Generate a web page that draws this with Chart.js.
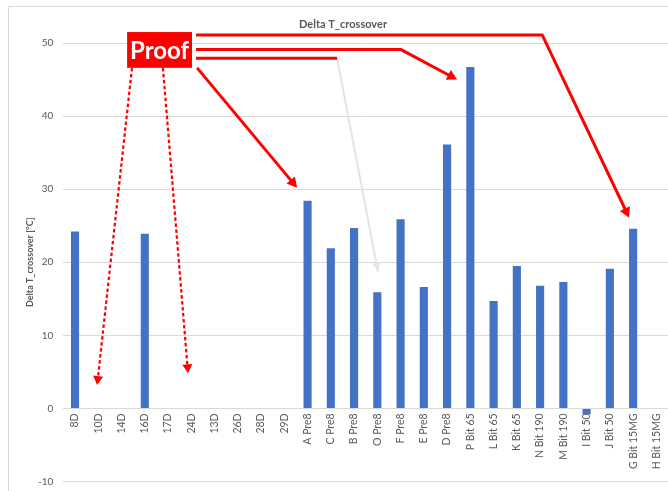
<!DOCTYPE html>
<html>
<head>
<meta charset="utf-8">
<script src="https://cdn.jsdelivr.net/npm/chart.js@4/dist/chart.umd.min.js"></script>
<style>
  html, body { margin: 0; padding: 0; background: #ffffff; }
  canvas { display: block; }
</style>
</head>
<body>
<canvas id="c" width="668" height="491"></canvas>
<script>
// ---- data ----
const categories = ['8D','10D','14D','16D','17D','24D','13D','26D','28D','29D',
  'A Pre8','C Pre8','B Pre8','O Pre8','F Pre8','E Pre8','D Pre8',
  'P Bit 65','L Bit 65','K Bit 65','N Bit 190','M Bit 190','I Bit 50','J Bit 50',
  'G Bit 15MG','H Bit 15MG'];
const deltaT = [24.2, null, null, 23.9, null, null, null, null, null, null,
  28.4, 21.9, 24.7, 15.9, 25.9, 16.6, 36.1,
  46.7, 14.7, 19.5, 16.8, 17.3, -0.8, 19.1,
  24.6, null];
const yTicks = [-10, 0, 10, 20, 30, 40, 50];
const chartTitle = 'Delta T_crossover';
const yTitle = 'Delta T_crossover [°C]';
const stampText = 'Proof';

// annotation geometry in data space: [category index, value]
const stampBox = [[2.24, 51.5], [5.03, 46.6]];
const solidArrows = [
  [[5.2, 51.1], [20.09, 51.1], [23.83, 26.1]],
  [[5.2, 49.1], [14.02, 49.1], [16.43, 45.0]],
  [[5.25, 46.6], [9.55, 30.2]]
];
const plainLine = [[5.2, 47.9], [11.27, 47.9]];
const grayArrow = [[11.27, 47.9], [13.03, 18.7]];
const dashedArrows = [
  [[2.45, 46.6], [0.95, 3.2]],
  [[3.78, 46.6], [4.86, 4.8]]
];

const FONT = 'Lato, "Open Sans", "DejaVu Sans", sans-serif';
const TXT = '#595959';

function arrowHead(ctx, x0, y0, x1, y1, len, half, color) {
  const a = Math.atan2(y1 - y0, x1 - x0);
  ctx.save();
  ctx.setLineDash([]);
  ctx.fillStyle = color;
  ctx.beginPath();
  ctx.moveTo(x1, y1);
  ctx.lineTo(x1 - len * Math.cos(a) + half * Math.sin(a), y1 - len * Math.sin(a) - half * Math.cos(a));
  ctx.lineTo(x1 - len * Math.cos(a) - half * Math.sin(a), y1 - len * Math.sin(a) + half * Math.cos(a));
  ctx.closePath();
  ctx.fill();
  ctx.restore();
}

const decor = {
  id: 'decor',
  beforeDraw(chart) {
    const ctx = chart.ctx;
    ctx.save();
    ctx.strokeStyle = '#d9d9d9';
    ctx.lineWidth = 1;
    ctx.beginPath();
    ctx.moveTo(8.5, 491);
    ctx.lineTo(8.5, 6.5);
    ctx.lineTo(668, 6.5);
    ctx.stroke();
    ctx.fillStyle = TXT;
    ctx.font = 'bold 11px ' + FONT;
    ctx.textAlign = 'center';
    ctx.textBaseline = 'middle';
    ctx.fillText(chartTitle, 343, 24);
    ctx.restore();
  },
  afterDraw(chart) {
    const ctx = chart.ctx;
    const xs = chart.scales.x, ys = chart.scales.y;
    const P = (p) => [xs.getPixelForValue(p[0]), ys.getPixelForValue(p[1])];
    ctx.save();
    ctx.lineJoin = 'miter';
    ctx.lineCap = 'butt';

    // gray arrow
    {
      const pts = grayArrow.map(P);
      ctx.strokeStyle = '#e4e4e4';
      ctx.lineWidth = 2;
      ctx.beginPath();
      ctx.moveTo(pts[0][0], pts[0][1]);
      ctx.lineTo(pts[1][0], pts[1][1]);
      ctx.stroke();
      arrowHead(ctx, pts[0][0], pts[0][1], pts[1][0], pts[1][1], 9, 4, '#e4e4e4');
    }

    // solid red lines
    ctx.strokeStyle = '#ff0000';
    ctx.lineWidth = 3;
    solidArrows.forEach(arr => {
      const n = arr.length;
      const pts = arr.map(P);
      const a = Math.atan2(pts[n-1][1] - pts[n-2][1], pts[n-1][0] - pts[n-2][0]);
      ctx.beginPath();
      ctx.moveTo(pts[0][0], pts[0][1]);
      for (let i = 1; i < n - 1; i++) ctx.lineTo(pts[i][0], pts[i][1]);
      ctx.lineTo(pts[n-1][0] - 6 * Math.cos(a), pts[n-1][1] - 6 * Math.sin(a));
      ctx.stroke();
      arrowHead(ctx, pts[n-2][0], pts[n-2][1], pts[n-1][0], pts[n-1][1], 10, 5.5, '#ff0000');
    });
    {
      const pts = plainLine.map(P);
      ctx.beginPath();
      ctx.moveTo(pts[0][0], pts[0][1]);
      ctx.lineTo(pts[1][0], pts[1][1]);
      ctx.stroke();
    }

    // dashed red arrows
    dashedArrows.forEach(arr => {
      const pts = arr.map(P);
      const a = Math.atan2(pts[1][1] - pts[0][1], pts[1][0] - pts[0][0]);
      ctx.setLineDash([3.5, 2.5]);
      ctx.lineWidth = 2.2;
      ctx.beginPath();
      ctx.moveTo(pts[0][0], pts[0][1]);
      ctx.lineTo(pts[1][0] - 6 * Math.cos(a), pts[1][1] - 6 * Math.sin(a));
      ctx.stroke();
      ctx.setLineDash([]);
      arrowHead(ctx, pts[0][0], pts[0][1], pts[1][0], pts[1][1], 9, 5, '#ff0000');
    });

    // stamp box
    const b0 = P(stampBox[0]), b1 = P(stampBox[1]);
    ctx.fillStyle = '#ff0000';
    ctx.fillRect(b0[0], b0[1], b1[0] - b0[0], b1[1] - b0[1]);
    ctx.fillStyle = '#ffffff';
    ctx.font = 'bold 24px ' + FONT;
    ctx.textAlign = 'center';
    ctx.textBaseline = 'middle';
    ctx.fillText(stampText, (b0[0] + b1[0]) / 2, (b0[1] + b1[1]) / 2 + 1);
    ctx.restore();
  }
};

new Chart(document.getElementById('c'), {
  type: 'bar',
  data: {
    labels: categories,
    datasets: [{
      label: chartTitle,
      data: deltaT,
      backgroundColor: '#4472C4',
      borderWidth: 0,
      barPercentage: 0.35,
      categoryPercentage: 1.0
    }]
  },
  options: {
    responsive: false,
    animation: false,
    devicePixelRatio: 1,
    layout: { padding: { left: 0, right: 0, top: 43, bottom: 9.5 } },
    plugins: { legend: { display: false }, tooltip: { enabled: false }, title: { display: false } },
    scales: {
      x: {
        type: 'category',
        position: { y: 0 },
        afterFit(scale) { scale.paddingLeft = 0; scale.paddingRight = 0; },
        grid: { display: false, drawTicks: false },
        border: { display: false },
        ticks: {
          autoSkip: false,
          minRotation: 90,
          maxRotation: 90,
          padding: 5,
          color: TXT,
          font: { family: FONT, size: 10.5 }
        }
      },
      y: {
        min: -10,
        max: 50,
        afterBuildTicks(scale) { scale.ticks = yTicks.map(v => ({ value: v })); },
        afterFit(scale) { scale.width = 63.4; scale.paddingTop = 0; scale.paddingBottom = 0; },
        grid: { color: '#d9d9d9', drawTicks: false, lineWidth: 1 },
        border: { display: false },
        ticks: {
          padding: 10,
          color: TXT,
          font: { family: FONT, size: 10 }
        },
        title: {
          display: true,
          text: yTitle,
          color: TXT,
          font: { family: FONT, size: 9, weight: 'bold' },
          padding: { top: 24.6, bottom: 0 }
        }
      }
    }
  },
  plugins: [decor]
});
</script>
</body>
</html>
